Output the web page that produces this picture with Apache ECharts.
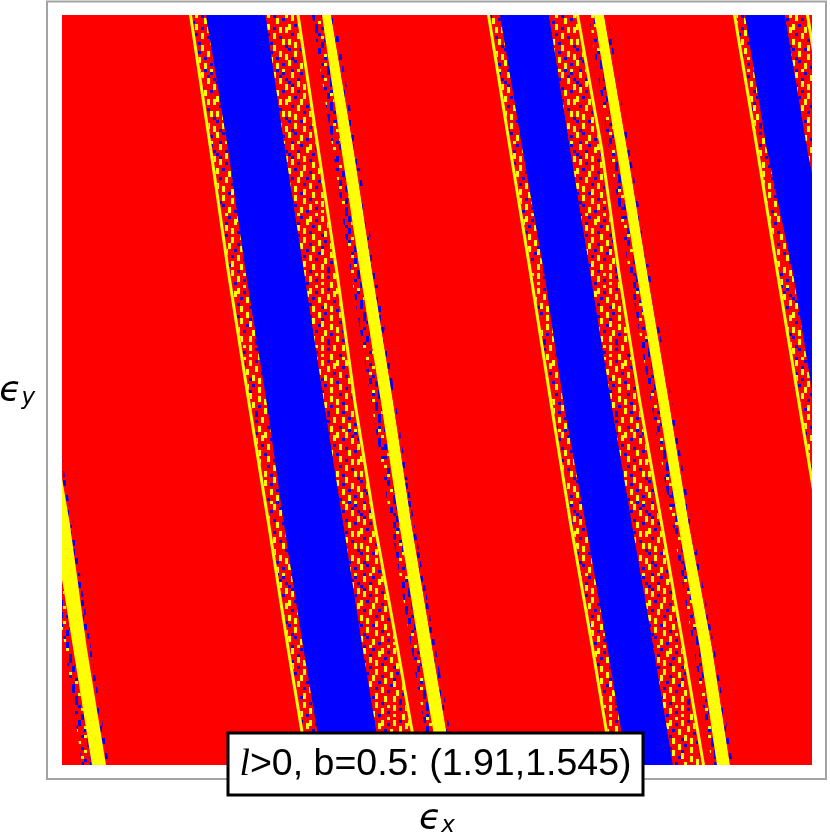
<!DOCTYPE html>
<html>
<head>
<meta charset="utf-8">
<style>html,body{margin:0;padding:0;background:#fff}#c{width:830px;height:835px}</style>
<script src="https://cdn.jsdelivr.net/npm/echarts@6/dist/echarts.min.js"></script>
</head>
<body>
<div id="c"></div>
<script>
const yLevels = [750, 617, 492, 362, 242, 117, 0];

const plotL = [0, 0, 0, 0, 0, 0, 0];
const plotR = [750, 750, 750, 750, 750, 750, 750];

// left wedge
const wSpecL = [-90, -70, -52, -33, -16, 3, 20];
const wBigL  = [-95, -72, -51, -29, -9, 11.1, 30];
const wBigR  = [-78, -56, -35, -13, 7.7, 24.8, 44];
const wDotsR = [-74, -52, -31, -9, 10.5, 29, 47];

// first stripe family
const aYl1L  = [127, 147, 165, 185.5, 205, 224.5, 244];
const aYl1R  = [130, 150, 168, 188.5, 208, 227.5, 247];
const aBlueL = [144, 165.9, 183.9, 204.8, 221.8, 241.3, 261];
const aBlueR = [203.5, 222.8, 242.3, 262.2, 281.2, 300.7, 320];
const aYl2L  = [234.5, 254.5, 273.5, 291.5, 311, 334, 354.5];
const aYl2R  = [237.5, 257.5, 276.5, 294.5, 314, 337, 357.5];
const aSpecL = [250, 270.5, 289, 309.4, 328.9, 349.3, 369];
const aBigL  = [260, 279.3, 298.2, 319.2, 337.2, 357.1, 377];
const aBigR  = [269, 291.4, 310.4, 331.3, 349.3, 370.3, 390];
const aDotsR = [273, 294.8, 314.3, 333.8, 352.3, 373.7, 394];

// second stripe family
const bYl1L  = [425, 446.5, 467, 487.5, 507, 529, 548.5];
const bYl1R  = [428, 449.5, 470, 490.5, 510, 532, 551.5];
const bBlueL = [438, 460.3, 482.2, 501.6, 523.5, 545.4, 565];
const bBlueR = [487, 508, 528.4, 549.3, 569.8, 591.7, 611];
const bYl2L  = [514, 538, 555.5, 576.5, 598, 620, 640];
const bYl2R  = [517, 541, 558.5, 579.5, 601, 623, 643];
const bSpecL = [527, 546.9, 567.3, 589.2, 610.2, 631.6, 650];
const bBigL  = [532, 554.2, 574.7, 596.5, 616, 637.9, 655];
const bBigR  = [542, 564.9, 585.3, 607.2, 626.7, 650.1, 668];
const bDotsR = [546, 567.3, 587.8, 610.2, 629.6, 652.5, 671];

// third stripe family (runs off the right edge)
const cYl1L  = [671, 693.5, 714, 735.5, 755.5, 778.5, 800.5];
const cYl1R  = [674, 696.5, 717, 738.5, 758.5, 781.5, 803.5];
const cBlueL = [683, 704.6, 731, 752, 772, 795, 815];
const cBlueR = [723, 745, 770, 790, 810, 830, 850];
const cYl2L  = [744, 766, 786, 806, 826, 846, 866];
const cYl2R  = [747, 769, 789, 809, 829, 849, 869];

const labelText = '{i|l}>0, b=0.5: (1.91,1.545)';
const xName = '{e|ϵ}{s|x}';
const yName = '{e|ϵ}{s|y}';

// hand-drawn textures for the speckled regions, after the zoomed picture
const denseTile = [
"RYRRBRRYRRRYRBRRYRRYRRBR","RYRRRRYYRBRYRRRYYRRYRBRR","RRRBRRYRRRRRRYRYRRBRRYRB","BRRYRRRRBRYRRYRRRRRRRYRR",
"RBRYRYRRRRYRRRRBRYRRRRRY","RYRRRYRBRRRRYRRRRYRBRRRY","RYRBRRRRYRRBYRYRRRRRYRBR","RRRRRYRRYRRRRRYRBRRRYRRR",
"YRBRRYRRRRYRBRRRRYRRRRRR","YRRRYRRBRRYRRRYRRYRBRYRY","RRRRYRRRYRRBRRYRRRRRRYRY","RBRYRRBRYRRYRRRRRBRYRRRR",
"RRRYRRRRRRBYRRYRRRRYRBRR","YRRRRBRYRRRRRRYRYRRRRRYR","YRYRRRRYRBRRYRRRYRBRRRYR","RRYRRYRRRRRRYRBRRRRYRRRB",
"BRRRBYRRYRRYRRRRYRRYRRRR","RRYRRRRRYRRYRBRRYRBRRYRR","RRYRRYRBRRRRRBRRRRRRRYRY","RBRRRYRRRYRYRRRYRRYRBRRY",
"YRBRRRRYRRRYRBRYRRYRRRRR","YRRRYRRYRBRRRRRRRRRRYRBR","RRRRYRBRRRRYRRYRRBRRYRRR","RBRYRRRRRYRRRRYRRRYRBRYR"];
const fringeTile = [
"RBRRBRRYRRBRRBRR","RBRRYRRBRRBRRRRY","RRRBRRBRRBRRYRBR","RRYBRRBRRYRRBRBR",
"BRRRRBRRBRRRRRBR","BRRBRYRRBRRBYRRB","RRRBRRBRBRRRRBRR","RYRBRRBRRRYRRBRR",
"BRRRBRYRRBRRRBRB","RRBRBRRRRBRBRRRY","RRBRRYRBRBRRYRBR","YRRBRRRBRRBRRRBR",
"RBRRBRRBRRRYRRBR","RBRRBRBRRBRRBRRR","RYRBRRRRBRRBRRBR","BRRBRYRRBRRBRBYR"];
const sparseTile = [
"RRBRRBRRRRRRBRRR","RRBRRBRBRRRRBRRB","RBRRRRRBRRBRRRRB","RBRRBRRRRRBRRBRR",
"RRRRBRRRBRRRRBRR","BRRRRRBRBRRBRRRR","BRBRRRBRRRRBRRBR","RRBRRRRRBRRRRRBR",
"RRRRBRRBBRRBRRRR","RBRRBRRRRRRBRRBR","RBRRRRBRRBRRRRBR","RRRBRRBRRBRRBRRR",
"BRRBRRRRBRRRBRRR","BRRRRBRRBRRBRRRB","RRBRRBRRRRRBRRRB","RRBRRRRBRRBRRBRR"];

const colors = {R:'#ff0000', Y:'#ffff00', B:'#0000ff'};
const CELL = 3;
function makePattern(rows){
  const h = rows.length, w = rows[0].length;
  const src = document.createElement('canvas'); src.width = w; src.height = h;
  const sc = src.getContext('2d');
  rows.forEach((row, y) => { for (let x = 0; x < w; x++){ sc.fillStyle = colors[row[x]]; sc.fillRect(x, y, 1, 1); } });
  const out = document.createElement('canvas'); out.width = w*CELL; out.height = h*CELL;
  const oc = out.getContext('2d'); oc.imageSmoothingEnabled = false;
  oc.filter = 'blur(0.6px)';
  for (let i = -1; i <= 1; i++) for (let j = -1; j <= 1; j++)
    oc.drawImage(src, i*w*CELL, j*h*CELL, w*CELL, h*CELL);
  return {image: out, repeat: 'repeat'};
}
const fills = {
  red: colors.R, yellow: colors.Y, blue: colors.B,
  dense: makePattern(denseTile), fringe: makePattern(fringeTile), sparse: makePattern(sparseTile)
};

// [left edge, right edge, fill]
const bands = [
  [plotL, plotR, 'red'],
  [wSpecL, wBigL, 'fringe'], [wBigR, wDotsR, 'sparse'], [wBigL, wBigR, 'yellow'],
  [aYl1R, aBlueL, 'dense'], [aYl1L, aYl1R, 'yellow'], [aBlueL, aBlueR, 'blue'],
  [aBlueR, aYl2L, 'dense'], [aYl2L, aYl2R, 'yellow'], [aSpecL, aBigL, 'fringe'],
  [aBigL, aBigR, 'yellow'], [aBigR, aDotsR, 'sparse'],
  [bYl1R, bBlueL, 'dense'], [bYl1L, bYl1R, 'yellow'], [bBlueL, bBlueR, 'blue'],
  [bBlueR, bYl2L, 'dense'], [bYl2L, bYl2R, 'yellow'], [bSpecL, bBigL, 'fringe'],
  [bBigL, bBigR, 'yellow'], [bBigR, bDotsR, 'sparse'],
  [cYl1R, cBlueL, 'dense'], [cYl1L, cYl1R, 'yellow'], [cBlueL, cBlueR, 'blue'],
  [cBlueR, cYl2L, 'dense'], [cYl2L, cYl2R, 'yellow']
];

const mathFont = '"DejaVu Sans"';
const axisRich = {
  e: {fontFamily: mathFont, fontStyle: 'italic', fontSize: 36, color: '#000', verticalAlign: 'bottom', lineHeight: 40},
  s: {fontFamily: mathFont, fontStyle: 'italic', fontSize: 23, color: '#000', verticalAlign: 'bottom', lineHeight: 28, padding: [10, 0, 0, 0]}
};

const chart = echarts.init(document.getElementById('c'), null, {renderer: 'canvas'});
chart.setOption({
  animation: false,
  backgroundColor: '#fff',
  grid: {left: 62, top: 15, width: 750, height: 750, show: false, outerBoundsMode: 'none', containLabel: false},
  xAxis: {
    type: 'value', min: 0, max: 750, interval: 750,
    axisLine: {show: false}, axisTick: {show: false}, axisLabel: {show: false}, splitLine: {show: false},
    name: xName, nameLocation: 'middle', nameGap: 33, nameRotate: 0,
    nameTextStyle: {rich: axisRich}
  },
  yAxis: {
    type: 'value', min: 0, max: 750, interval: 750,
    axisLine: {show: false}, axisTick: {show: false}, axisLabel: {show: false}, splitLine: {show: false},
    name: yName, nameLocation: 'middle', nameGap: 27, nameRotate: 0,
    nameTextStyle: {rich: axisRich}
  },
  series: [{
    type: 'custom',
    coordinateSystem: 'cartesian2d',
    clip: true,
    silent: true,
    data: bands.map((b, i) => [i]),
    encode: {x: [], y: []},
    renderItem: function (params, api) {
      const band = bands[params.dataIndex];
      const pts = [];
      yLevels.forEach((y, i) => pts.push(api.coord([band[0][i], y])));
      for (let i = yLevels.length - 1; i >= 0; i--) pts.push(api.coord([band[1][i], yLevels[i]]));
      return {type: 'polygon', shape: {points: pts}, style: {fill: fills[band[2]], stroke: null}};
    }
  }],
  graphic: [
    {type: 'rect', z: 50, silent: true, shape: {x: 47, y: 1.5, width: 779, height: 777.5},
      style: {fill: 'transparent', stroke: '#a3a3a3', lineWidth: 2}},
    {type: 'rect', z: 60, silent: true, shape: {x: 228, y: 733, width: 415, height: 62},
      style: {fill: '#fff', stroke: '#000', lineWidth: 3}},
    {type: 'text', z: 61, silent: true, x: 435.5, y: 765,
      style: {
        text: labelText, align: 'center', verticalAlign: 'middle',
        fontFamily: '"Liberation Sans"', fontSize: 37.5, fill: '#000',
        rich: {i: {fontFamily: '"Liberation Serif"', fontStyle: 'italic', fontSize: 37.5, fill: '#000'}}
      }}
  ]
});
</script>
</body>
</html>
